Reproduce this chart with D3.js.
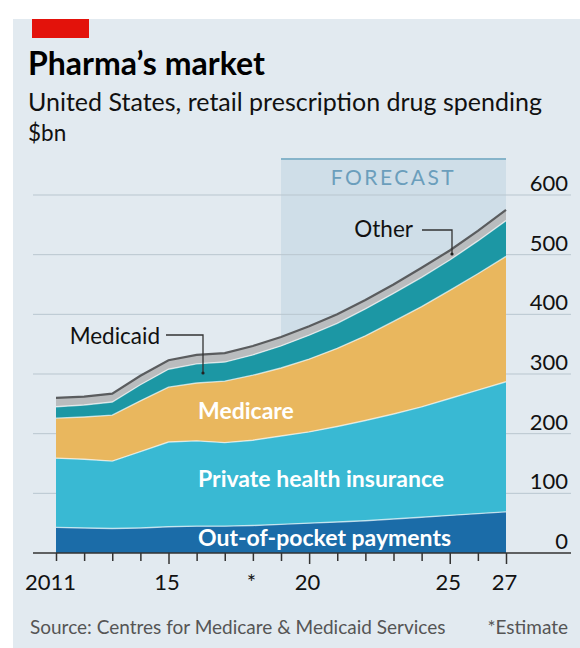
<!DOCTYPE html>
<html>
<head>
<meta charset="utf-8">
<script src="https://cdn.jsdelivr.net/npm/d3@7/dist/d3.min.js"></script>
<style>
  html, body { margin: 0; padding: 0; background: #fff; }
  svg { display: block; font-family: Lato, "Open Sans", sans-serif; }
</style>
</head>
<body>
<svg id="chart" width="580" height="648"></svg>
<script>
// US retail prescription drug spending by payer, $bn (2019 onwards forecast)
const years    = [2011, 2012, 2013, 2014, 2015, 2016, 2017, 2018, 2019, 2020, 2021, 2022, 2023, 2024, 2025, 2026, 2027];
const outOfPocket = [43, 42, 41, 42, 44, 45, 45, 46, 48, 50, 52, 54, 57, 60, 63, 66, 69];
const privateIns  = [116, 115, 113, 128, 142, 143, 140, 143, 148, 153, 160, 168, 176, 185, 196, 207, 218];
const medicare    = [67, 71, 77, 85, 92, 97, 103, 109, 114, 122, 131, 142, 155, 168, 181, 195, 210];
const medicaid    = [19, 20, 22, 27, 30, 32, 32, 34, 37, 40, 42, 45, 47, 49, 51, 55, 60];
const other       = [15, 14, 14, 15, 15, 15, 15, 15, 15, 15, 15, 15, 15, 16, 16, 17, 18];

const seriesKeys   = ["oop", "private", "medicare", "medicaid", "other"];
const seriesColors = ["#1b6ca8", "#39b9d3", "#e9b75e", "#1c97a4", "#b9bcbe"];

const yTicks      = [0, 100, 200, 300, 400, 500, 600];
const xTickYears  = [2011, 2015, 2018, 2020, 2025, 2027];
const xTickLabels = ["2011", "15", "*", "20", "25", "27"];
const forecastFrom = 2019;

const rows = years.map((yr, i) => ({
  year: yr,
  oop: outOfPocket[i],
  private: privateIns[i],
  medicare: medicare[i],
  medicaid: medicaid[i],
  other: other[i]
}));

const svg = d3.select("#chart");

const x = d3.scaleLinear().domain([2011, 2027]).range([56, 506]);
const y = d3.scaleLinear().domain([0, 600]).range([553, 195]);

// panel background and red tag
svg.append("rect").attr("x", 13).attr("y", 19).attr("width", 567).attr("height", 629).attr("fill", "#e2eaf0");
svg.append("rect").attr("x", 32).attr("y", 19).attr("width", 57).attr("height", 19).attr("fill", "#e3120b");

// headings
svg.append("text").attr("x", 28).attr("y", 75)
  .attr("font-size", 32).attr("font-weight", 700).attr("fill", "#000")
  .text("Pharma\u2019s market");
svg.append("text").attr("x", 28).attr("y", 111)
  .attr("font-size", 25).attr("fill", "#111")
  .text("United States, retail prescription drug spending");
svg.append("text").attr("x", 28).attr("y", 141)
  .attr("font-size", 22.5).attr("fill", "#111")
  .text("$bn");

// forecast shading
const shadeTop = 159;
svg.append("rect")
  .attr("x", x(forecastFrom)).attr("y", shadeTop)
  .attr("width", x(2027) - x(forecastFrom)).attr("height", y(0) - shadeTop)
  .attr("fill", "#cfdee8");
svg.append("line")
  .attr("x1", x(forecastFrom)).attr("x2", x(2027))
  .attr("y1", shadeTop).attr("y2", shadeTop)
  .attr("stroke", "#86b4ca").attr("stroke-width", 2);
svg.append("text")
  .attr("x", (x(forecastFrom) + x(2027)) / 2).attr("y", 185)
  .attr("text-anchor", "middle")
  .attr("font-size", 21).attr("letter-spacing", 2.5).attr("fill", "#6b9ebc")
  .text("FORECAST");

// gridlines
svg.append("g").selectAll("line")
  .data(yTicks.filter(v => v > 0))
  .join("line")
  .attr("x1", 33).attr("x2", 571)
  .attr("y1", d => y(d)).attr("y2", d => y(d))
  .attr("stroke", "#b9c6cf").attr("stroke-width", 1);

// stacked areas
const stacked = d3.stack().keys(seriesKeys)(rows);
const area = d3.area()
  .x(d => x(d.data.year))
  .y0(d => y(d[0]))
  .y1(d => y(d[1]));
const topLine = d3.line()
  .x(d => x(d.data.year))
  .y(d => y(d[1]));

svg.append("g").selectAll("path")
  .data(stacked)
  .join("path")
  .attr("d", area)
  .attr("fill", (d, i) => seriesColors[i]);

// thin light separators between bands
svg.append("g").selectAll("path")
  .data(stacked.slice(0, 4))
  .join("path")
  .attr("d", topLine)
  .attr("fill", "none")
  .attr("stroke", "rgba(255,255,255,0.65)")
  .attr("stroke-width", 1.4);

// dark edge along the total
svg.append("path")
  .datum(stacked[4])
  .attr("d", topLine)
  .attr("fill", "none")
  .attr("stroke", "#5a5c5e")
  .attr("stroke-width", 2.2);

// y-axis labels on the right
svg.append("g").selectAll("text")
  .data(yTicks)
  .join("text")
  .attr("x", 568).attr("y", d => y(d) - 4)
  .attr("text-anchor", "end")
  .attr("font-size", 22).attr("fill", "#111")
  .text(d => d);

// x axis
svg.append("line")
  .attr("x1", 33).attr("x2", 571)
  .attr("y1", y(0)).attr("y2", y(0))
  .attr("stroke", "#333").attr("stroke-width", 1.6);

const xAxis = d3.axisBottom(x)
  .tickValues(years)
  .tickSize(7)
  .tickSizeOuter(0)
  .tickFormat(d => {
    const k = xTickYears.indexOf(d);
    return k >= 0 ? xTickLabels[k] : "";
  });

const gx = svg.append("g")
  .attr("transform", `translate(0,${y(0)})`)
  .call(xAxis);
gx.select(".domain").remove();
gx.selectAll(".tick line")
  .attr("stroke", "#333").attr("stroke-width", 1.5)
  .attr("y2", d => [2015, 2020, 2025, 2027].includes(d) ? 11 : 8);
gx.selectAll(".tick text")
  .attr("y", 37).attr("dy", 0).attr("dx", d => d === 2011 ? -6 : -2)
  .attr("font-family", "Lato, sans-serif")
  .attr("font-size", 22).attr("fill", "#111");

// band labels
const bandLabels = [
  { text: "Medicare", year: 2016.05, value: 224 },
  { text: "Private health insurance", year: 2016.05, value: 110.5 },
  { text: "Out-of-pocket payments", year: 2016.05, value: 12 }
];
svg.append("g").selectAll("text")
  .data(bandLabels)
  .join("text")
  .attr("x", d => x(d.year)).attr("y", d => y(d.value))
  .attr("font-size", 23).attr("font-weight", 700).attr("fill", "#fff")
  .text(d => d.text);

// callouts
const callouts = [
  { text: "Medicaid", tx: 160, ty: 344, lx1: 166, ly: 335, lx2: 203, ly2: 373 },
  { text: "Other",    tx: 413, ty: 237, lx1: 422, ly: 230, lx2: 452, ly2: 254 }
];
const cg = svg.append("g");
callouts.forEach(c => {
  cg.append("text")
    .attr("x", c.tx).attr("y", c.ty)
    .attr("text-anchor", "end")
    .attr("font-size", 22.5).attr("fill", "#111")
    .text(c.text);
  cg.append("path")
    .attr("d", `M${c.lx1},${c.ly}H${c.lx2}V${c.ly2}`)
    .attr("fill", "none").attr("stroke", "#333").attr("stroke-width", 1.3);
  cg.append("circle")
    .attr("cx", c.lx2).attr("cy", c.ly2).attr("r", 1.6).attr("fill", "#222");
});

// footer
svg.append("text").attr("x", 30).attr("y", 634)
  .attr("font-size", 19).attr("fill", "#555")
  .text("Source: Centres for Medicare & Medicaid Services");
svg.append("text").attr("x", 568).attr("y", 634)
  .attr("text-anchor", "end")
  .attr("font-size", 19).attr("fill", "#555")
  .text("*Estimate");
</script>
</body>
</html>
